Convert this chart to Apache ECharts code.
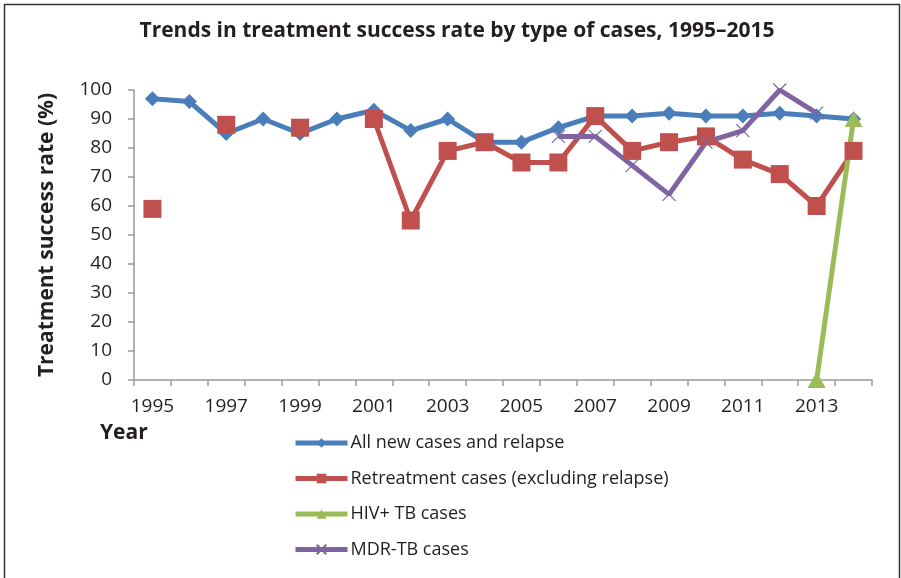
<!DOCTYPE html>
<html>
<head>
<meta charset="utf-8">
<script src="https://cdn.jsdelivr.net/npm/echarts@6/dist/echarts.min.js"></script>
<style>
html,body{margin:0;padding:0;background:#fff;}
#c{width:901px;height:578px;}
</style>
</head>
<body>
<div id="c"></div>
<script>
const years = ['1995','1996','1997','1998','1999','2000','2001','2002','2003','2004','2005','2006','2007','2008','2009','2010','2011','2012','2013','2014'];
const allNew = [97, 96, 85, 90, 85, 90, 93, 86, 90, 82, 82, 87, 91, 91, 92, 91, 91, 92, 91, 90];
const retreatment = [59, null, 88, null, 87, null, 90, 55, 79, 82, 75, 75, 91, 79, 82, 84, 76, 71, 60, 79];
const hivTb = [null, null, null, null, null, null, null, null, null, null, null, null, null, null, null, null, null, null, 0, 90];
const mdrTb = [null, null, null, null, null, null, null, null, null, null, null, 84, 84, 74, 64, 82, 86, 100, 92, null];
const yTicks = [0, 10, 20, 30, 40, 50, 60, 70, 80, 90, 100];

const txt = '#231f20';
const font = '"Open Sans", "Noto Sans", sans-serif';
const chart = echarts.init(document.getElementById('c'), null, {renderer: 'canvas'});

function mk(name, data, color, symbol, size, extra) {
  return Object.assign({
    name: name, type: 'line', data: data,
    symbol: symbol, symbolSize: size, showAllSymbol: true,
    connectNulls: false,
    lineStyle: {color: color, width: 5},
    itemStyle: {color: color},
    emphasis: {disabled: true},
    animation: false
  }, extra || {});
}

chart.setOption({
  animation: false,
  textStyle: {fontFamily: font, color: txt},
  title: {
    text: 'Trends in treatment success rate by type of cases, 1995\u20132015',
    left: 452, top: 16, textAlign: 'center',
    textStyle: {fontSize: 21, fontWeight: 'bold', color: txt, fontFamily: font}
  },
  grid: {left: 134, right: 29, top: 90, bottom: 198, containLabel: false},
  xAxis: {
    type: 'category', data: years, boundaryGap: true,
    axisLine: {lineStyle: {color: '#9a9a9a', width: 1.5}},
    axisTick: {show: true, interval: 0, length: 6, lineStyle: {color: '#9a9a9a', width: 1.5}},
    axisLabel: {interval: 1, color: txt, fontSize: 19, margin: 17, fontFamily: font},
    splitLine: {show: false}
  },
  yAxis: {
    type: 'value', min: yTicks[0], max: yTicks[yTicks.length - 1], interval: 10,
    name: 'Treatment success rate (%)', nameLocation: 'middle', nameGap: 76,
    nameTextStyle: {fontSize: 21, fontWeight: 'bold', color: txt, fontFamily: font},
    axisLine: {show: true, lineStyle: {color: '#9a9a9a', width: 1.5}},
    axisTick: {show: true, length: 6, lineStyle: {color: '#9a9a9a', width: 1.5}},
    axisLabel: {color: txt, fontSize: 19, margin: 22, fontFamily: font},
    splitLine: {show: false}
  },
  legend: {
    orient: 'vertical', left: 288, top: 429,
    itemWidth: 52, itemHeight: 12, itemGap: 17.5,
    lineStyle: {width: 5},
    textStyle: {fontSize: 18, color: txt, fontFamily: font, padding: [0, 0, 0, -2]},
    data: ['All new cases and relapse', 'Retreatment cases (excluding relapse)', 'HIV+ TB cases', 'MDR-TB cases']
  },
  graphic: [
    {type: 'rect', shape: {x: 4.5, y: 4.5, width: 895, height: 600}, style: {fill: 'none', stroke: '#333', lineWidth: 1.5}, silent: true},
    {type: 'text', left: 100, top: 423, style: {text: 'Year', font: 'bold 21px ' + font, fill: txt}}
  ],
  series: [
    mk('All new cases and relapse', allNew, '#4a7ebb', 'diamond', 15),
    mk('Retreatment cases (excluding relapse)', retreatment, '#c0504d', 'rect', 18),
    mk('HIV+ TB cases', hivTb, '#9bbb59', 'triangle', [18, 16]),
    mk('MDR-TB cases', mdrTb, '#8064a2', 'path://M0,0L10,10M10,0L0,10', 13,
       {itemStyle: {color: 'none', borderColor: '#8064a2', borderWidth: 1.2}})
  ]
});
</script>
</body>
</html>
